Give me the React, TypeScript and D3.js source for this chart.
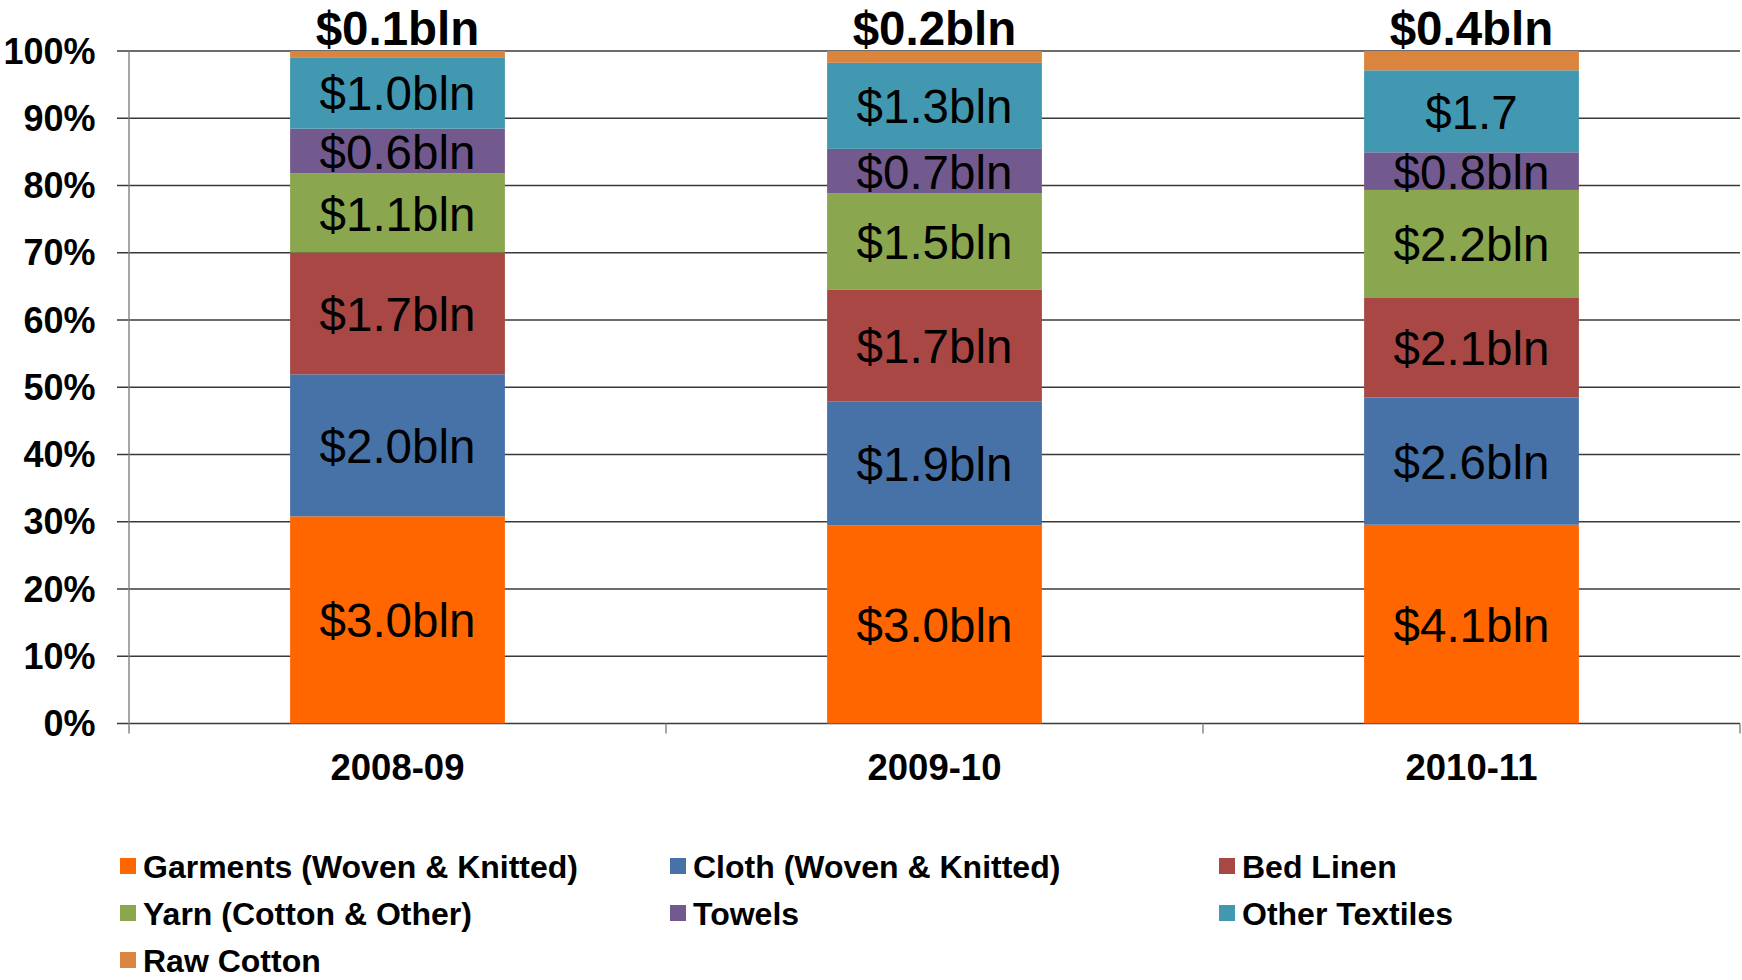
import React from "react";
import * as d3 from "d3";

const categories = ["2008-09", "2009-10", "2010-11"];
const seriesNames = [
  "Garments (Woven & Knitted)",
  "Cloth (Woven & Knitted)",
  "Bed Linen",
  "Yarn (Cotton & Other)",
  "Towels",
  "Other Textiles",
  "Raw Cotton",
];
const colors = ["#FF6600", "#4672A8", "#A94744", "#8AA64E", "#725A8F", "#4298B0", "#DB843D"];

// values in $ billion, per category
const garments = [2.96, 3.02, 4.12];
const cloth = [2.03, 1.88, 2.64];
const bedLinen = [1.74, 1.71, 2.06];
const yarn = [1.13, 1.46, 2.24];
const towels = [0.64, 0.68, 0.78];
const otherTextiles = [1.02, 1.31, 1.7];
const rawCotton = [0.09, 0.18, 0.4];

const garmentsLabels = ["$3.0bln", "$3.0bln", "$4.1bln"];
const clothLabels = ["$2.0bln", "$1.9bln", "$2.6bln"];
const bedLinenLabels = ["$1.7bln", "$1.7bln", "$2.1bln"];
const yarnLabels = ["$1.1bln", "$1.5bln", "$2.2bln"];
const towelsLabels = ["$0.6bln", "$0.7bln", "$0.8bln"];
const otherLabels = ["$1.0bln", "$1.3bln", "$1.7"];
const rawLabels = ["$0.1bln", "$0.2bln", "$0.4bln"];

const yTicks = [0, 0.1, 0.2, 0.3, 0.4, 0.5, 0.6, 0.7, 0.8, 0.9, 1.0];

const allValues = [garments, cloth, bedLinen, yarn, towels, otherTextiles, rawCotton];
const allLabels = [garmentsLabels, clothLabels, bedLinenLabels, yarnLabels, towelsLabels, otherLabels, rawLabels];

export default function App() {
  const W = 1742, H = 980;
  const left = 129, right = 1740, top = 51, bottom = 723.5;

  const rows = categories.map((c, i) => {
    const r: any = { cat: c };
    seriesNames.forEach((s, j) => (r[s] = allValues[j][i]));
    return r;
  });
  const stack = d3.stack<any>().keys(seriesNames).offset(d3.stackOffsetExpand);
  const layers = stack(rows);

  const x = d3.scaleBand().domain(categories).range([left, right]).paddingInner(0).paddingOuter(0);
  const bw = x.bandwidth() * 0.4;
  const y = d3.scaleLinear().domain([0, 1]).range([bottom, top]);

  const font = "'Liberation Sans', Arial, sans-serif";
  const legendCols = [120, 670, 1219];
  const legendRows = [866, 913, 960];

  return (
    <svg width={W} height={H} style={{ position: "absolute", left: 0, top: 0, background: "#fff" }} fontFamily={font}>
      <rect x={0} y={0} width={W} height={H} fill="#fff" />
      {/* gridlines */}
      {yTicks.map((t) => (
        <line key={t} x1={117} x2={right} y1={y(t)} y2={y(t)} stroke="#3a3a3a" strokeWidth={1.4} />
      ))}
      {/* y axis */}
      <line x1={left} x2={left} y1={top} y2={bottom + 10} stroke="#808080" strokeWidth={1.4} />
      {/* category ticks */}
      {categories.map((c) => (
        <line key={c} x1={(x(c) as number) + x.bandwidth()} x2={(x(c) as number) + x.bandwidth()} y1={bottom} y2={bottom + 10} stroke="#808080" strokeWidth={1.4} />
      ))}
      {/* y tick labels */}
      {yTicks.map((t) => (
        <text key={t} x={95.5} y={y(t) + 12.5} textAnchor="end" fontWeight="bold" fontSize={36} fill="#000">
          {d3.format(".0%")(t)}
        </text>
      ))}
      {/* bars */}
      {layers.map((layer, j) =>
        layer.map((d, i) => {
          const cx = (x(categories[i]) as number) + x.bandwidth() / 2;
          return (
            <rect key={`${j}-${i}`} x={cx - bw / 2} width={bw} y={y(d[1])} height={y(d[0]) - y(d[1])} fill={colors[j]} />
          );
        })
      )}
      {/* segment labels */}
      {layers.map((layer, j) =>
        layer.map((d, i) => {
          const cx = (x(categories[i]) as number) + x.bandwidth() / 2;
          if (j === seriesNames.length - 1) {
            return (
              <text key={`l${j}-${i}`} x={cx} y={45} textAnchor="middle" fontWeight="bold" fontSize={47.5} fill="#000">
                {allLabels[j][i]}
              </text>
            );
          }
          const cy = (y(d[0]) + y(d[1])) / 2;
          return (
            <text key={`l${j}-${i}`} x={cx} y={cy + 17.5} textAnchor="middle" fontSize={47.5} fill="#000">
              {allLabels[j][i]}
            </text>
          );
        })
      )}
      {/* category labels */}
      {categories.map((c) => (
        <text key={c} x={(x(c) as number) + x.bandwidth() / 2} y={780} textAnchor="middle" fontWeight="bold" fontSize={36.5} fill="#000">
          {c}
        </text>
      ))}
      {/* legend */}
      {seriesNames.map((s, j) => {
        const lx = legendCols[j % 3];
        const ly = legendRows[Math.floor(j / 3)];
        return (
          <g key={s}>
            <rect x={lx} y={ly - 8} width={16} height={16} fill={colors[j]} />
            <text x={lx + 23} y={ly + 11.5} fontWeight="bold" fontSize={32} fill="#000">
              {s}
            </text>
          </g>
        );
      })}
    </svg>
  );
}
